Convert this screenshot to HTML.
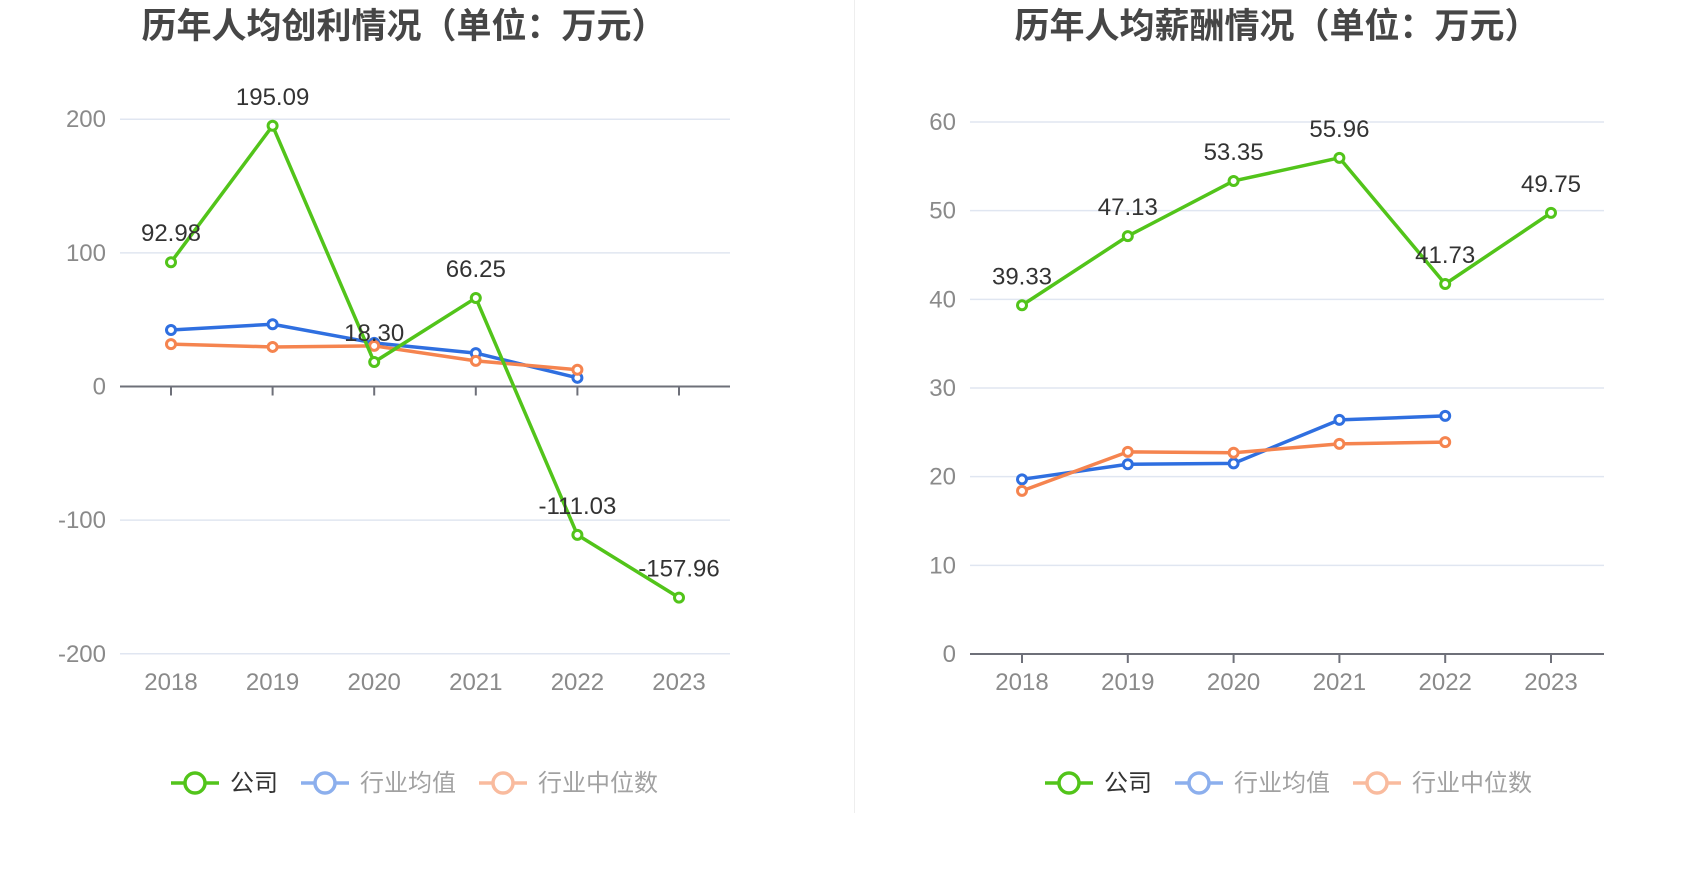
<!DOCTYPE html>
<html><head><meta charset="utf-8"><style>
html,body{margin:0;padding:0;background:#fff;width:1700px;height:874px;overflow:hidden;}
svg{display:block;font-family:"Liberation Sans","Noto Sans CJK SC",sans-serif;}
</style></head><body>
<svg id="s" width="1700" height="874">
<line x1="854.5" y1="0" x2="854.5" y2="813" stroke="#eeeeee" stroke-width="1"/>
<text x="404" y="38" text-anchor="middle" font-size="35" font-weight="bold" fill="#464646">历年人均创利情况（单位：万元）</text>
<text x="1277" y="38" text-anchor="middle" font-size="35" font-weight="bold" fill="#464646">历年人均薪酬情况（单位：万元）</text>
</svg>
<script>
const years = ["2018","2019","2020","2021","2022","2023"];
const profitCompany = [92.98,195.09,18.30,66.25,-111.03,-157.96];
const profitIndustryAvg = [42.3,46.6,32.6,25.0,6.5];
const profitIndustryMedian = [31.7,29.6,30.4,19.2,12.5];
const profitTicks = [200,100,0,-100,-200];
const salaryCompany = [39.33,47.13,53.35,55.96,41.73,49.75];
const salaryIndustryAvg = [19.7,21.4,21.5,26.4,26.85];
const salaryIndustryMedian = [18.4,22.8,22.7,23.7,23.9];
const salaryTicks = [60,50,40,30,20,10,0];
const seriesNames = ["公司","行业均值","行业中位数"];

const NS="http://www.w3.org/2000/svg";
const svg=document.getElementById('s');
const GREEN="#52c41a",BLUE="#2f6fe0",ORANGE="#f5844f";
function mk(tag,attrs,parent){const e=document.createElementNS(NS,tag);for(const k in attrs)e.setAttribute(k,attrs[k]);(parent||svg).appendChild(e);return e;}

function chart(cfg){
  const g=mk('g',{});
  
  
  const y=v=>cfg.y0+(cfg.vmax-v)/(cfg.vmax-cfg.vmin)*(cfg.y1-cfg.y0);
  const x=i=>cfg.x0+i*cfg.step;
  cfg.ticks.forEach(t=>{
    if(t!==cfg.axisVal){
      const l=mk('line',{x1:cfg.gx0,x2:cfg.gx1,y1:y(t),y2:y(t),stroke:"#e0e6f1","stroke-width":1.5},g);
      
      
    }
    const tx=mk('text',{x:cfg.gx0-14,y:y(t)+8,"text-anchor":"end","font-size":24,fill:"#8a8a8a"},g);
    tx.textContent=t;
    
    
  });
  const ay=y(cfg.axisVal);
  const ax=mk('line',{x1:cfg.gx0,x2:cfg.gx1,y1:ay,y2:ay,stroke:"#6e7079","stroke-width":2},g);
  
  
  years.forEach((yr,i)=>{
    const tk=mk('line',{x1:x(i),x2:x(i),y1:ay,y2:ay+9,stroke:"#6e7079","stroke-width":2},g);
    
    
    const tl=mk('text',{x:x(i),y:cfg.labelY,"text-anchor":"middle","font-size":24,fill:"#8a8a8a"},g);
    tl.textContent=yr;
    
    
  });
  const series=[[cfg.avg,BLUE,'industry-avg'],[cfg.med,ORANGE,'industry-median'],[cfg.comp,GREEN,'company']];
  series.forEach(([d,c,n])=>{
    const pts=d.map((v,i)=>x(i)+","+y(v)).join(" ");
    const pl=mk('polyline',{points:pts,fill:"none",stroke:c,"stroke-width":3.5,"stroke-linejoin":"round"},g);
    
    
    d.forEach((v,i)=>{
      const p=mk('circle',{cx:x(i),cy:y(v),r:4.5,fill:"#fff",stroke:c,"stroke-width":3},g);
      
      
    });
  });
  cfg.comp.forEach((v,i)=>{
    const t=mk('text',{x:x(i),y:y(v)-21,"text-anchor":"middle","font-size":24,fill:"#333"},g);
    t.textContent=v.toFixed(2);
    
    
  });
  const cols=[GREEN,BLUE,ORANGE];
  const op=[1,0.55,0.55];
  cfg.legend.forEach((lx,k)=>{
    const lg=mk('g',{opacity:op[k]},g);
    
    
    mk('line',{x1:lx-24,x2:lx+24,y1:783,y2:783,stroke:cols[k],"stroke-width":3.5},lg);
    mk('circle',{cx:lx,cy:783,r:10,fill:"#fff",stroke:cols[k],"stroke-width":3.5},lg);
    const t=mk('text',{x:lx+35,y:791,"font-size":24,fill:k==0?"#333":"#555"},lg);
    t.textContent=seriesNames[k];
  });
}
chart({name:'profit-chart',x0:171,step:101.6,y0:119.2,y1:653.8,vmax:200,vmin:-200,gx0:120,gx1:730,ticks:profitTicks,axisVal:0,labelY:690,comp:profitCompany,avg:profitIndustryAvg,med:profitIndustryMedian,legend:[195,325,503]});
chart({name:'salary-chart',x0:1022,step:105.8,y0:122,y1:654,vmax:60,vmin:0,gx0:970,gx1:1604,ticks:salaryTicks,axisVal:0,labelY:690,comp:salaryCompany,avg:salaryIndustryAvg,med:salaryIndustryMedian,legend:[1069,1199,1377]});
</script>
</body></html>
